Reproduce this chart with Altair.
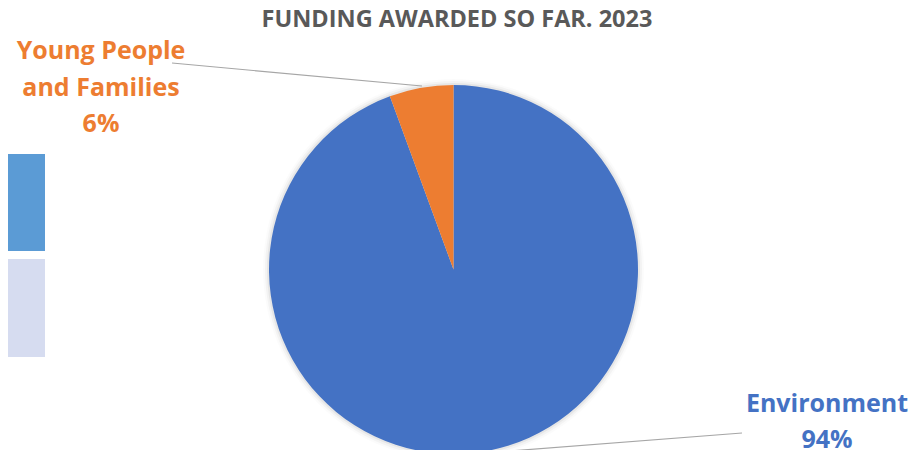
import altair as alt
import pandas as pd

categories = ["Environment", "Young People and Families"]
shares = [94.4, 5.6]
label_lines = [["Environment"], ["Young People", "and Families"]]
colors = ["#4472C4", "#ED7D31"]
title_text = "FUNDING AWARDED SO FAR. 2023"

df = pd.DataFrame({
    "category": categories,
    "share": shares,
    "order": list(range(len(categories))),
    "label": ["\n".join(l + [f"{round(s)}%"]) for l, s in zip(label_lines, shares)],
})

W, H = 908, 442
CX, CY, R = 445.5, 261.5, 184.5
FONT = "Open Sans"

base = alt.Chart(df)

# soft shadow around pie
shadow = alt.layer(*[
    alt.Chart(pd.DataFrame({"k": [0]})).mark_arc(
        radius=R + d, theta=0, theta2=6.2832, color="#000000", opacity=op
    ).encode(x=alt.value(CX), y=alt.value(CY))
    for d, op in [(6, 0.015), (4, 0.03), (2, 0.05)]
])

pie = base.mark_arc(radius=R, stroke=None).encode(
    theta=alt.Theta("share:Q", stack=True),
    order=alt.Order("order:Q"),
    color=alt.Color("category:N", scale=alt.Scale(domain=categories, range=colors), legend=None),
    x=alt.value(CX),
    y=alt.value(CY),
)

title = alt.Chart(pd.DataFrame({"t": [title_text]})).mark_text(
    font=FONT, fontSize=23.5, fontWeight="bold", color="#595959", align="center", baseline="alphabetic"
).encode(text="t:N", x=alt.value(449), y=alt.value(19))

lbl_young = base.transform_filter(alt.datum.category == categories[1]).mark_text(
    font=FONT, fontSize=25, fontWeight="bold", color=colors[1], align="center",
    baseline="alphabetic", lineBreak="\n", lineHeight=36.5
).encode(text="label:N", x=alt.value(93), y=alt.value(51))

lbl_env = base.transform_filter(alt.datum.category == categories[0]).mark_text(
    font=FONT, fontSize=25, fontWeight="bold", color=colors[0], align="center",
    baseline="alphabetic", lineBreak="\n", lineHeight=36
).encode(text="label:N", x=alt.value(819), y=alt.value(404))

one = pd.DataFrame({"k": [0]})
lead1 = alt.Chart(one).mark_rule(color="#A6A6A6", strokeWidth=1.2).encode(
    x=alt.value(164), y=alt.value(55), x2=alt.value(414), y2=alt.value(78))
lead2 = alt.Chart(one).mark_rule(color="#A6A6A6", strokeWidth=1.2).encode(
    x=alt.value(489), y=alt.value(444), x2=alt.value(734), y2=alt.value(425))

rect1 = alt.Chart(one).mark_rect(color="#5B9BD5").encode(
    x=alt.value(0), x2=alt.value(37), y=alt.value(146), y2=alt.value(243))
rect2 = alt.Chart(one).mark_rect(color="#D6DCF0").encode(
    x=alt.value(0), x2=alt.value(37), y=alt.value(251), y2=alt.value(349))

chart = alt.layer(shadow, pie, rect1, rect2, lead1, lead2, title, lbl_young, lbl_env).properties(
    width=W, height=H, padding=0, autosize=alt.AutoSizeParams(type="none"),
    background="#FFFFFF"
).configure_view(stroke=None)

chart.save("out.html", embed_options={"renderer": "svg", "actions": False})
